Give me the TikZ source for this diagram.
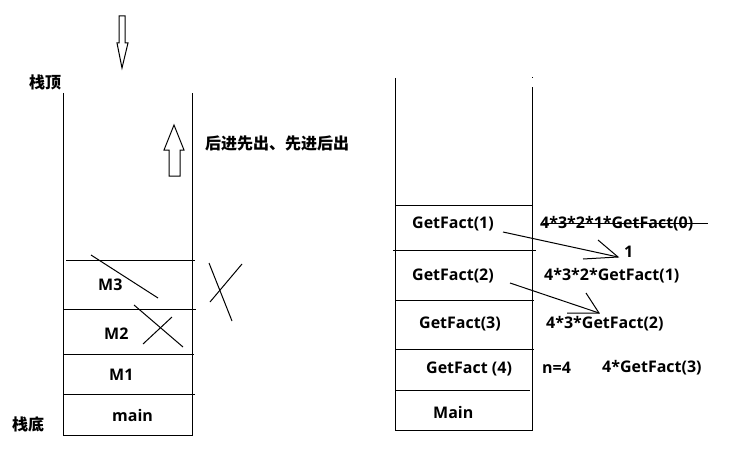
\documentclass[tikz,border=0pt]{standalone}
\usepackage{fontspec}
\setmainfont{Open Sans}
\newfontfamily\cjk{Noto Sans CJK SC}
\tikzset{
  thin line/.style={draw=black, line width=1pt},
  lbl/.style={font=\bfseries\fontsize{16}{16}\selectfont, inner sep=0pt, anchor=base west},
  cjklbl/.style={font=\cjk\bfseries\fontsize{16}{16}\selectfont, inner sep=0pt, anchor=west},
}
\begin{document}
\begin{tikzpicture}[x=1pt,y=-1pt]
\useasboundingbox (0,0) rectangle (742,460);
\fill[white] (0,0) rectangle (742,460);

% ---------- left stack ----------
\draw[thin line] (63,93) -- (63,435) -- (192,435) -- (192,93);
\draw[thin line] (66,260) -- (195,260);
\draw[thin line] (63,309) -- (196,309);
\draw[thin line] (63,354) -- (194,354);
\draw[thin line] (63,394) -- (195,394);

\node[cjklbl] (top) at (29,82) {栈顶};
\node[cjklbl] (bottom) at (12,424) {栈底};
\node[cjklbl] (lifo) at (205,143) {后进先出、先进后出};

\node[lbl] (m3) at (98,290) {M3};
\node[lbl] (m2) at (104,339) {M2};
\node[lbl] (m1) at (109,380) {M1};
\node[lbl] (mainl) at (112,421) {main};

% hollow arrows
\draw[thin line] (119,16) -- (125,16) -- (125,43) -- (128,43) -- (122,68) -- (117,43) -- (119,43) -- cycle;
\draw[thin line] (169,176) -- (180,176) -- (180,150) -- (184,150) -- (174,125) -- (164,150) -- (169,150) -- cycle;

% crossing strokes
\draw[thin line] (91,255) -- (158,298);
\draw[thin line] (134,305) -- (183,347);
\draw[thin line] (143,344) -- (172,317);
\draw[thin line] (209,263) -- (232,321);
\draw[thin line] (210,302) -- (242,264);

% ---------- right stack ----------
\draw[thin line] (395,78) -- (395,430) -- (532,430) -- (532,87);
\fill (531.5,77.5) rectangle (532.5,78.5);
\draw[thin line] (395,205) -- (532,205);
\draw[thin line] (393,250) -- (536,250);
\draw[thin line] (395,300) -- (534,300);
\draw[thin line] (395,349) -- (534,349);
\draw[thin line] (396,390) -- (530,390);

\node[lbl] (g1) at (412,228) {GetFact(1)};
\node[lbl] (g2) at (412,280) {GetFact(2)};
\node[lbl] (g3) at (419,328) {GetFact(3)};
\node[lbl] (g4) at (426,373) {GetFact (4)};
\node[lbl] (mainr) at (433,418) {Main};

\node[lbl] (e0) at (540,228) {4*3*2*1*GetFact(0)};
\node[lbl] (one) at (624,257) {1};
\node[lbl] (e1) at (544,280) {4*3*2*GetFact(1)};
\node[lbl] (e2) at (546,328) {4*3*GetFact(2)};
\node[lbl] (n4) at (542,373) {n=4};
\node[lbl] (e3) at (602,372) {4*GetFact(3)};

% strike through
\coordinate (s0) at (543,223);
\coordinate (s1) at (708,223);
\draw[thin line] (s0) -- (s1);

% return arrows
\coordinate (a1s) at (503,232);
\coordinate (a1t) at (618,257);
\coordinate (a1h1) at (598,240);
\coordinate (a1h2) at (583,259);
\draw[thin line] (a1s) -- (a1t);
\draw[thin line] (a1h1) -- (a1t) -- (a1h2);

\coordinate (a2s) at (510,283);
\coordinate (a2t) at (599,313);
\coordinate (a2h1) at (586,293);
\coordinate (a2h2) at (567,313);
\draw[thin line] (a2s) -- (a2t);
\draw[thin line] (a2h1) -- (a2t) -- (a2h2);
\end{tikzpicture}
\end{document}
